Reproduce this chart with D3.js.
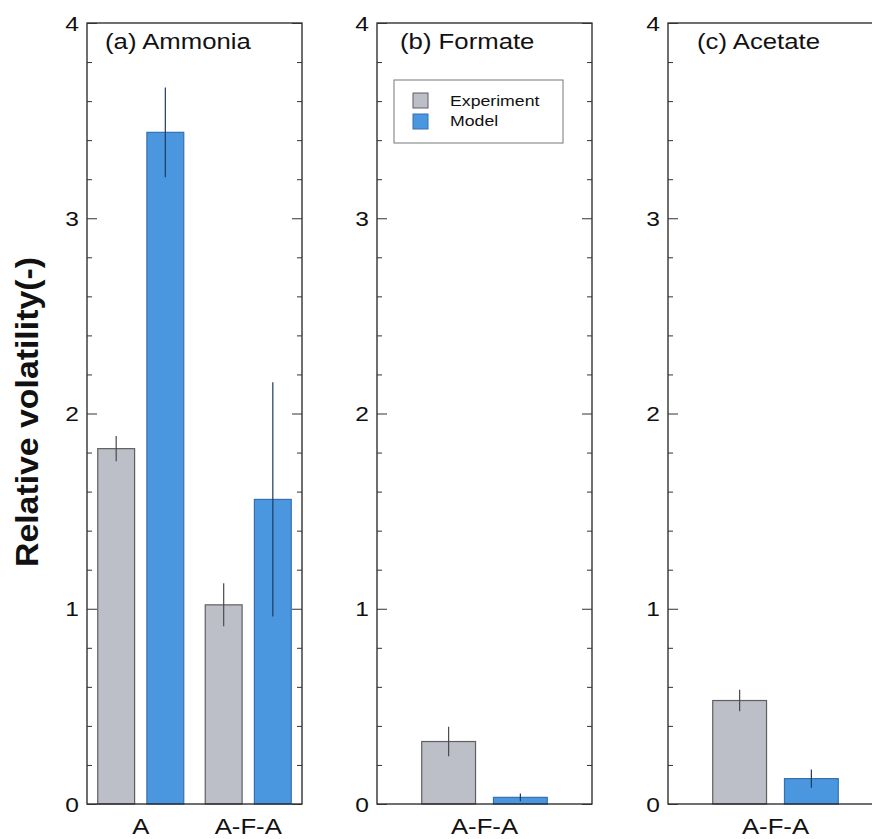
<!DOCTYPE html>
<html>
<head>
<meta charset="utf-8">
<script src="https://cdn.jsdelivr.net/npm/d3@7"></script>
<style>
  html, body { margin: 0; padding: 0; background: #fff; overflow: hidden; }
  text { font-family: Arial, "Liberation Sans", sans-serif; fill: #111; }
</style>
</head>
<body>
<svg id="chart" width="872" height="839"></svg>
<script>
// data
var panelTitles = ['(a) Ammonia', '(b) Formate', '(c) Acetate'];
var panelCategories = [['A', 'A-F-A'], ['A-F-A'], ['A-F-A']];
var seriesNames = ['Experiment', 'Model'];
var experiment = [[1.82, 1.02], [0.32], [0.53]];
var experimentErr = [[0.065, 0.11], [0.076], [0.055]];
var model = [[3.44, 1.56], [0.034], [0.13]];
var modelErr = [[0.23, 0.60], [0.02], [0.047]];
var yTicks = [0, 1, 2, 3, 4];

var colors = { Experiment: '#bcbfc7', Model: '#4a97e0' };
var strokes = { Experiment: '#5f5f5f', Model: '#3571ad' };
var errColors = { Experiment: '#4a4a4a', Model: '#1d3a5e' };

var svg = d3.select('#chart');
var plotTop = 23, plotBottom = 804, panelW = 215;
var panelLeft = [87, 377, 668];
var outerPad = [0.1, 0.285, 0.285];

var y = d3.scaleLinear().domain([0, 4]).range([plotBottom, plotTop]);
var minorTicks = d3.range(0, 4.01, 0.2).filter(d => Math.abs(d - Math.round(d)) > 1e-6);

// the original text is a little wider than Arial
function place(x, yy, sx) {
    return 'translate(' + x + ',' + yy + ') scale(' + sx + ',1)';
}

panelTitles.forEach((title, p) => {
    var x0 = panelLeft[p];
    var g = svg.append('g');
    var cats = panelCategories[p];

    var x = d3.scaleBand()
        .domain(cats)
        .range([x0, x0 + panelW])
        .paddingInner(0.2)
        .paddingOuter(outerPad[p]);
    var xs = d3.scaleBand()
        .domain(seriesNames)
        .range([0, x.bandwidth()])
        .paddingInner(0.25);

    var rows = [];
    cats.forEach((c, i) => {
        rows.push({ cat: c, s: 'Experiment', v: experiment[p][i], e: experimentErr[p][i] });
        rows.push({ cat: c, s: 'Model', v: model[p][i], e: modelErr[p][i] });
    });

    g.selectAll('rect.bar')
        .data(rows)
        .enter()
        .append('rect')
        .attr('class', 'bar')
        .attr('x', d => x(d.cat) + xs(d.s))
        .attr('y', d => y(d.v))
        .attr('width', xs.bandwidth())
        .attr('height', d => y(0) - y(d.v))
        .attr('fill', d => colors[d.s])
        .attr('stroke', d => strokes[d.s])
        .attr('stroke-width', 1.2);

    g.selectAll('line.err')
        .data(rows)
        .enter()
        .append('line')
        .attr('class', 'err')
        .attr('x1', d => x(d.cat) + xs(d.s) + xs.bandwidth() / 2)
        .attr('x2', d => x(d.cat) + xs(d.s) + xs.bandwidth() / 2)
        .attr('y1', d => y(d.v + d.e))
        .attr('y2', d => y(d.v - d.e))
        .attr('stroke', d => errColors[d.s])
        .attr('stroke-width', 1.2);

    // frame
    g.append('rect')
        .attr('x', x0)
        .attr('y', plotTop)
        .attr('width', panelW)
        .attr('height', plotBottom - plotTop)
        .attr('fill', 'none')
        .attr('stroke', '#222')
        .attr('stroke-width', 1.3);

    // inward ticks, both sides
    var left = d3.axisRight(y).tickValues(yTicks).tickSize(10).tickFormat('');
    var leftMinor = d3.axisRight(y).tickValues(minorTicks).tickSize(5).tickFormat('');
    var right = d3.axisLeft(y).tickValues(yTicks).tickSize(10).tickFormat('');
    var rightMinor = d3.axisLeft(y).tickValues(minorTicks).tickSize(5).tickFormat('');
    [[left, x0], [leftMinor, x0], [right, x0 + panelW], [rightMinor, x0 + panelW]].forEach(a => {
        var ax = g.append('g').attr('transform', 'translate(' + a[1] + ',0)').call(a[0]);
        ax.select('.domain').remove();
        ax.selectAll('line').attr('stroke', '#333').attr('stroke-width', 1);
    });

    // tick labels
    g.selectAll('text.ylab')
        .data(yTicks)
        .enter()
        .append('text')
        .attr('class', 'ylab')
        .attr('transform', d => place(x0 - 8, y(d), 1.17))
        .attr('dy', '0.36em')
        .attr('text-anchor', 'end')
        .style('font-size', '21px')
        .text(d => d);

    // category labels
    g.selectAll('text.xlab')
        .data(cats)
        .enter()
        .append('text')
        .attr('class', 'xlab')
        .attr('transform', d => place(x(d) + x.bandwidth() / 2, 834, 1.17))
        .attr('text-anchor', 'middle')
        .style('font-size', '22px')
        .text(d => d);

    g.append('text')
        .attr('transform', place(x0 + [18, 23, 29][p], 49, 1.17))
        .style('font-size', '22px')
        .text(title);
});

// legend in panel (b)
var lg = svg.append('g').attr('transform', 'translate(394,80)');
lg.append('rect')
    .attr('width', 169)
    .attr('height', 63)
    .attr('fill', '#fff')
    .attr('stroke', '#777')
    .attr('stroke-width', 1);
seriesNames.forEach((s, i) => {
    lg.append('rect')
        .attr('x', 19)
        .attr('y', 13 + i * 21)
        .attr('width', 15)
        .attr('height', 15)
        .attr('fill', colors[s])
        .attr('stroke', strokes[s])
        .attr('stroke-width', 1);
    lg.append('text')
        .attr('transform', place(56, 26 + i * 20, 1.18))
        .style('font-size', '15px')
        .text(s);
});

// y axis title
svg.append('text')
    .attr('transform', 'translate(38,412) rotate(-90)')
    .attr('text-anchor', 'middle')
    .attr('textLength', 310)
    .attr('lengthAdjust', 'spacingAndGlyphs')
    .style('font-size', '31px')
    .style('font-weight', 'bold')
    .text('Relative volatility(-)');
</script>
</body>
</html>
